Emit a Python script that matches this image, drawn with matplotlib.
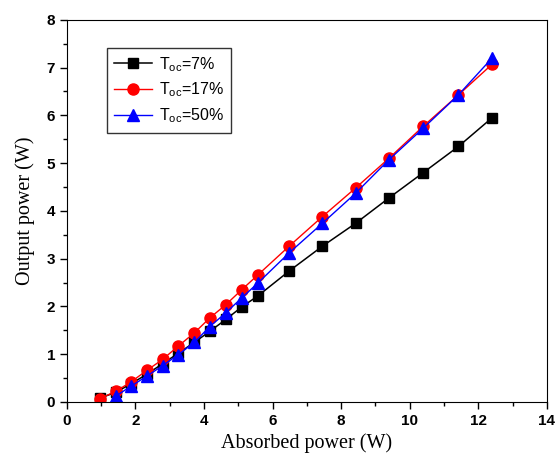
import matplotlib
matplotlib.use("Agg")
import matplotlib.pyplot as plt
from matplotlib.ticker import MultipleLocator

# absorbed power (W)
absorbed = [0.96, 1.42, 1.87, 2.33, 2.79, 3.25, 3.72, 4.17, 4.64, 5.10,
            5.57, 6.48, 7.45, 8.42, 9.39, 10.39, 11.42, 12.40]

# output power (W) for each output coupler transmission
out_7 = [0.08, 0.20, 0.38, 0.58, 0.80, 1.02, 1.25, 1.48, 1.73, 1.99,
         2.22, 2.74, 3.26, 3.74, 4.27, 4.80, 5.35, 5.95]
out_17 = [0.07, 0.22, 0.42, 0.66, 0.89, 1.17, 1.45, 1.76, 2.04, 2.35,
          2.66, 3.26, 3.88, 4.48, 5.10, 5.77, 6.43, 7.07]
absorbed_50 = absorbed[1:]
out_50 = [0.12, 0.33, 0.54, 0.76, 0.99, 1.25, 1.58, 1.87, 2.18, 2.49,
          3.12, 3.74, 4.37, 5.07, 5.73, 6.43, 7.20]

labels = [r"T$_{\mathrm{oc}}$=7%", r"T$_{\mathrm{oc}}$=17%", r"T$_{\mathrm{oc}}$=50%"]

plt.rcParams["font.family"] = ["Liberation Sans", "DejaVu Sans"]
plt.rcParams["mathtext.fontset"] = "custom"
plt.rcParams["mathtext.rm"] = "Liberation Sans"

fig = plt.figure(figsize=(5.57, 4.61), dpi=100)
ax = fig.add_axes([0.120, 0.128, 0.862, 0.829])

ax.plot(absorbed, out_7, color="black", lw=1.1, marker="s", ms=6.5, label=labels[0])
ax.plot(absorbed, out_17, color="red", lw=1.0, marker="o", ms=8, label=labels[1])
ax.plot(absorbed_50, out_50, color="blue", lw=1.0, marker="^", ms=8, label=labels[2])

ax.set_xlim(0, 14)
ax.set_ylim(0, 8)
ax.xaxis.set_major_locator(MultipleLocator(2))
ax.xaxis.set_minor_locator(MultipleLocator(1))
ax.yaxis.set_major_locator(MultipleLocator(1))
ax.yaxis.set_minor_locator(MultipleLocator(0.5))
ax.tick_params(which="both", direction="out", top=False, right=False, labelsize=11)
ax.tick_params(which="major", length=5, width=1)
ax.tick_params(which="minor", length=3, width=1)
for lab in ax.get_xticklabels() + ax.get_yticklabels():
    lab.set_fontweight("bold")

ax.set_xlabel("Absorbed power (W)", family="Liberation Serif", fontsize=14.5)
ax.set_ylabel("Output power (W)", family="Liberation Serif", fontsize=14.5, labelpad=8)

leg = ax.legend(loc="upper left", bbox_to_anchor=(0.083, 0.927), borderaxespad=0,
                fontsize=11.5, frameon=True, fancybox=False, edgecolor="black",
                handlelength=2.4, borderpad=0.45, labelspacing=0.45, handletextpad=0.4)
leg.get_frame().set_linewidth(1.0)

fig.savefig("out.png", dpi=100)
